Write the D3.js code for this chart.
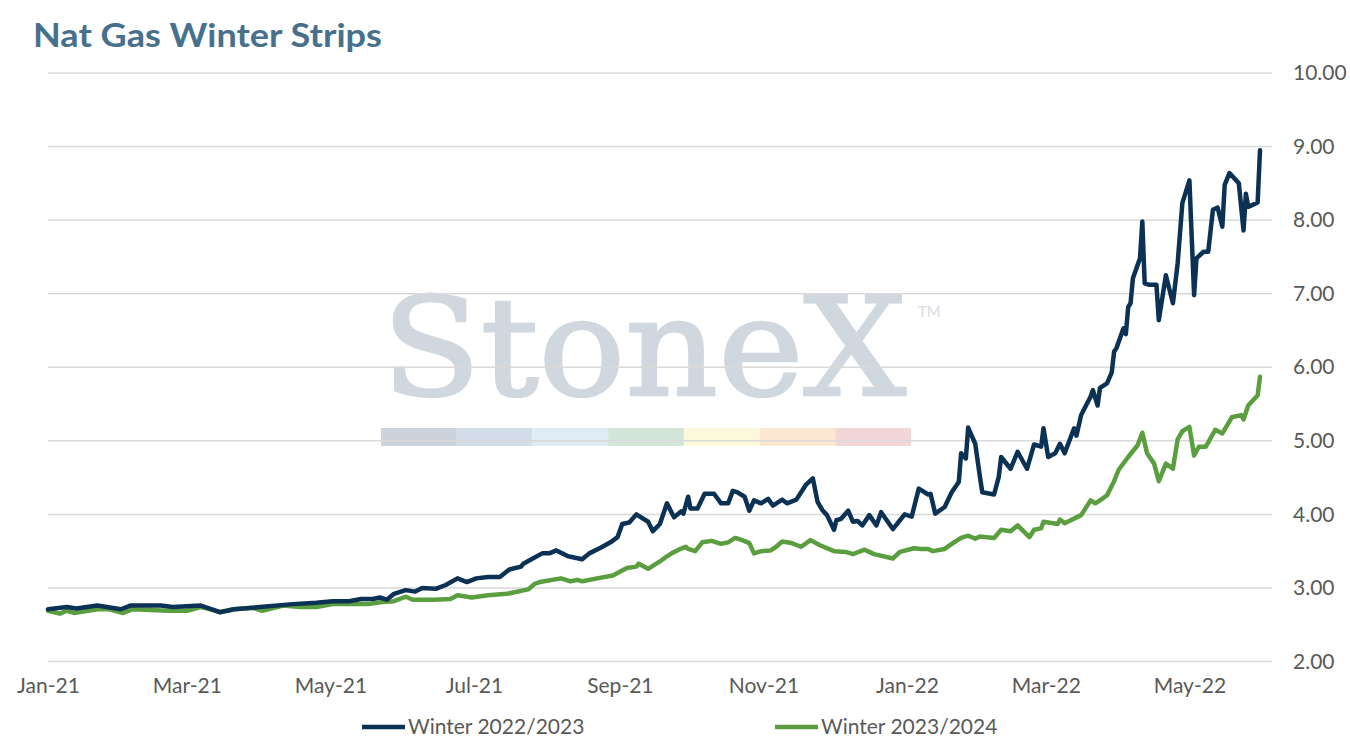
<!DOCTYPE html>
<html>
<head>
<meta charset="utf-8">
<script src="https://cdn.jsdelivr.net/npm/d3@7"></script>
<style>
  body { margin: 0; background: #fff; }
  text { font-family: Lato, "Noto Sans", sans-serif; }
</style>
</head>
<body>
<div id="chart"></div>
<script>
// Winter 2022/2023 strip (navy)
var w22Dates = ["2021-01-01","2021-01-09","2021-01-13","2021-01-22","2021-02-01","2021-02-05","2021-02-18","2021-02-23",
  "2021-03-07","2021-03-15","2021-03-21","2021-04-01","2021-04-15","2021-04-25","2021-05-02","2021-05-09","2021-05-14",
  "2021-05-19","2021-05-22","2021-05-25","2021-05-28","2021-06-02","2021-06-06","2021-06-09","2021-06-15","2021-06-19",
  "2021-06-24","2021-06-28","2021-07-02","2021-07-07","2021-07-12","2021-07-16","2021-07-21","2021-07-22","2021-07-26",
  "2021-07-30","2021-08-02","2021-08-05","2021-08-10","2021-08-16","2021-08-19","2021-08-24","2021-08-28","2021-08-31",
  "2021-09-02","2021-09-05","2021-09-08","2021-09-13","2021-09-15","2021-09-18","2021-09-21","2021-09-24","2021-09-27",
  "2021-09-28","2021-09-30","2021-10-01","2021-10-04","2021-10-07","2021-10-11","2021-10-14","2021-10-17","2021-10-19",
  "2021-10-21","2021-10-24","2021-10-26","2021-10-28","2021-10-31","2021-11-03","2021-11-05","2021-11-09","2021-11-11",
  "2021-11-15","2021-11-19","2021-11-22","2021-11-24","2021-11-26","2021-11-28","2021-12-01","2021-12-02","2021-12-04",
  "2021-12-07","2021-12-09","2021-12-11","2021-12-13","2021-12-16","2021-12-19","2021-12-21","2021-12-26","2021-12-29",
  "2021-12-31","2022-01-03","2022-01-06","2022-01-10","2022-01-11","2022-01-13","2022-01-17","2022-01-20","2022-01-23",
  "2022-01-24","2022-01-26","2022-01-27","2022-01-30","2022-02-01","2022-02-02","2022-02-07","2022-02-09","2022-02-10",
  "2022-02-14","2022-02-17","2022-02-21","2022-02-24","2022-02-27","2022-02-28","2022-03-02","2022-03-05","2022-03-07",
  "2022-03-09","2022-03-13","2022-03-14","2022-03-16","2022-03-20","2022-03-21","2022-03-23","2022-03-24","2022-03-27",
  "2022-03-29","2022-03-30","2022-03-31","2022-04-03","2022-04-04","2022-04-05","2022-04-06","2022-04-07","2022-04-10",
  "2022-04-11","2022-04-12","2022-04-14","2022-04-17","2022-04-18","2022-04-21","2022-04-24","2022-04-26","2022-04-28",
  "2022-05-01","2022-05-03","2022-05-04","2022-05-07","2022-05-09","2022-05-11","2022-05-13","2022-05-15","2022-05-16",
  "2022-05-18","2022-05-22","2022-05-24","2022-05-25","2022-05-26","2022-05-30","2022-05-31"];
var w22Values = [2.71,2.74,2.72,2.76,2.71,2.76,2.76,2.74,
  2.76,2.67,2.71,2.74,2.78,2.80,2.82,2.82,2.85,
  2.85,2.87,2.84,2.92,2.97,2.95,3.00,2.99,3.04,
  3.13,3.08,3.13,3.15,3.15,3.25,3.29,3.33,3.40,
  3.47,3.47,3.51,3.43,3.39,3.47,3.55,3.62,3.69,
  3.87,3.89,4.00,3.90,3.77,3.87,4.15,3.96,4.04,
  4.01,4.24,4.08,4.08,4.28,4.28,4.15,4.15,4.32,
  4.30,4.24,4.05,4.19,4.15,4.21,4.12,4.20,4.15,
  4.20,4.40,4.49,4.17,4.06,3.99,3.79,3.92,3.94,
  4.05,3.90,3.91,3.85,3.99,3.85,4.03,3.80,3.92,
  4.00,3.97,4.35,4.27,4.28,4.01,4.10,4.30,4.44,
  4.83,4.76,5.18,4.96,4.51,4.30,4.27,4.51,4.78,
  4.62,4.85,4.62,4.95,4.92,5.17,4.78,4.83,4.96,
  4.83,5.17,5.07,5.35,5.60,5.69,5.48,5.72,5.78,
  5.93,6.21,6.26,6.53,6.45,6.82,6.87,7.21,7.48,
  7.98,7.14,7.12,7.12,6.64,7.25,6.87,7.41,8.23,
  8.54,6.98,7.48,7.57,7.57,8.14,8.17,7.91,8.48,
  8.64,8.50,7.86,8.36,8.18,8.24,8.95];

// Winter 2023/2024 strip (green)
var w23Dates = ["2021-01-01","2021-01-06","2021-01-09","2021-01-12","2021-01-22","2021-01-27","2021-02-02","2021-02-06",
  "2021-02-21","2021-03-01","2021-03-07","2021-03-11","2021-03-15","2021-03-21","2021-03-29","2021-04-02","2021-04-11",
  "2021-04-18","2021-04-25","2021-05-02","2021-05-17","2021-05-23","2021-05-28","2021-06-02","2021-06-05","2021-06-14",
  "2021-06-21","2021-06-24","2021-06-30","2021-07-07","2021-07-15","2021-07-24","2021-07-27","2021-07-29","2021-08-07",
  "2021-08-11","2021-08-14","2021-08-16","2021-08-24","2021-08-29","2021-09-01","2021-09-04","2021-09-08","2021-09-09",
  "2021-09-13","2021-09-18","2021-09-21","2021-09-23","2021-09-26","2021-09-29","2021-09-30","2021-10-03","2021-10-06",
  "2021-10-10","2021-10-14","2021-10-17","2021-10-20","2021-10-23","2021-10-26","2021-10-28","2021-10-31","2021-11-04",
  "2021-11-06","2021-11-09","2021-11-13","2021-11-17","2021-11-21","2021-11-25","2021-12-01","2021-12-06","2021-12-09",
  "2021-12-14","2021-12-18","2021-12-26","2021-12-29","2022-01-04","2022-01-07","2022-01-10","2022-01-12","2022-01-17",
  "2022-01-21","2022-01-24","2022-01-27","2022-01-30","2022-02-01","2022-02-07","2022-02-10","2022-02-14","2022-02-17",
  "2022-02-22","2022-02-24","2022-02-27","2022-02-28","2022-03-06","2022-03-07","2022-03-09","2022-03-16","2022-03-20",
  "2022-03-22","2022-03-24","2022-03-27","2022-03-30","2022-04-01","2022-04-05","2022-04-09","2022-04-11","2022-04-13",
  "2022-04-16","2022-04-18","2022-04-21","2022-04-24","2022-04-26","2022-04-28","2022-05-01","2022-05-03","2022-05-05",
  "2022-05-08","2022-05-12","2022-05-15","2022-05-19","2022-05-23","2022-05-24","2022-05-26","2022-05-30","2022-05-31"];
var w23Values = [2.69,2.65,2.69,2.66,2.71,2.71,2.66,2.71,
  2.69,2.69,2.74,2.71,2.67,2.71,2.73,2.69,2.76,
  2.74,2.74,2.78,2.78,2.81,2.82,2.88,2.84,2.84,
  2.85,2.90,2.87,2.90,2.92,2.98,3.06,3.08,3.13,
  3.09,3.11,3.09,3.14,3.17,3.22,3.27,3.29,3.33,
  3.26,3.36,3.43,3.47,3.52,3.56,3.53,3.50,3.62,
  3.64,3.60,3.62,3.68,3.65,3.61,3.47,3.50,3.51,
  3.55,3.63,3.61,3.56,3.65,3.58,3.50,3.49,3.46,
  3.52,3.46,3.40,3.49,3.54,3.53,3.53,3.50,3.53,
  3.62,3.68,3.71,3.67,3.70,3.68,3.79,3.77,3.85,
  3.69,3.79,3.81,3.90,3.87,3.93,3.88,3.99,4.19,
  4.15,4.19,4.26,4.45,4.61,4.78,4.94,5.11,4.83,
  4.69,4.45,4.69,4.62,5.02,5.13,5.19,4.80,4.92,
  4.92,5.15,5.10,5.32,5.35,5.29,5.48,5.62,5.87];

var seriesNames = ["Winter 2022/2023", "Winter 2023/2024"];
var seriesColors = ["#0b3154", "#5b9e3f"];
var yTicks = [2, 3, 4, 5, 6, 7, 8, 9, 10];
var xTickDates = ["2021-01-01","2021-03-01","2021-05-01","2021-07-01","2021-09-01","2021-11-01",
  "2022-01-01","2022-03-01","2022-05-01"];
var watermarkColors = ["#ccd3dc","#d3dde9","#dfecf5","#d4e6da","#fbf8dc","#fbe7d2","#f3d6d8"];

var W = 1350, H = 750;
var parse = d3.timeParse("%Y-%m-%d");

var svg = d3.select("#chart").append("svg")
    .attr("width", W)
    .attr("height", H);

// Scales
var x = d3.scaleTime()
    .domain([parse("2021-01-01"), parse("2022-05-31")])
    .range([48, 1260]);
var y = d3.scaleLinear()
    .domain([2, 10])
    .range([661.5, 73]);

// Title
svg.append("text")
    .attr("x", 33)
    .attr("y", 47)
    .attr("textLength", 349)
    .attr("lengthAdjust", "spacingAndGlyphs")
    .attr("fill", "#47708c")
    .style("font-size", "32px")
    .style("font-weight", "700")
    .text("Nat Gas Winter Strips");

// Watermark (sits under the gridlines)
var wm = svg.append("g").attr("class", "watermark");
wm.append("text")
    .attr("x", 382)
    .attr("y", 395)
    .attr("textLength", 524)
    .attr("lengthAdjust", "spacingAndGlyphs")
    .attr("fill", "#d0d7df")
    .attr("stroke", "#d0d7df")
    .attr("stroke-width", 2.5)
    .style("font-family", "'DejaVu Serif', 'Liberation Serif', serif")
    .style("font-size", "136px")
    .text("StoneX");
wm.append("text")
    .attr("x", 918)
    .attr("y", 317)
    .attr("fill", "#d6dce3")
    .style("font-size", "15px")
    .text("TM");
var segW = 530 / watermarkColors.length;
wm.selectAll("rect")
    .data(watermarkColors)
    .enter().append("rect")
    .attr("x", function (d, i) { return 381 + i * segW; })
    .attr("y", 428)
    .attr("width", segW)
    .attr("height", 18)
    .attr("fill", function (d) { return d; });

// Gridlines
svg.append("g")
    .selectAll("line")
    .data(yTicks)
    .enter().append("line")
    .attr("x1", 48)
    .attr("x2", 1272)
    .attr("y1", function (d) { return y(d); })
    .attr("y2", function (d) { return y(d); })
    .attr("stroke", "#d9d9d9")
    .attr("stroke-width", 1.5);

// Y axis (right)
var yAxis = d3.axisRight(y)
    .tickValues(yTicks)
    .tickSize(0)
    .tickPadding(0)
    .tickFormat(d3.format(".2f"));
var gy = svg.append("g")
    .attr("transform", "translate(1293,0)")
    .call(yAxis);
gy.select(".domain").remove();
gy.selectAll("text")
    .attr("fill", "#595959")
    .style("font-size", "21px")
    .style("font-family", "Lato, sans-serif");

// X axis
var xAxis = d3.axisBottom(x)
    .tickValues(xTickDates.map(parse))
    .tickSize(0)
    .tickPadding(0)
    .tickFormat(d3.timeFormat("%b-%y"));
var gx = svg.append("g")
    .attr("transform", "translate(0,678)")
    .call(xAxis);
gx.select(".domain").remove();
gx.selectAll("text")
    .attr("fill", "#595959")
    .style("font-size", "21px")
    .style("font-family", "Lato, sans-serif");

// Lines
var line = d3.line()
    .x(function (d) { return x(d.date); })
    .y(function (d) { return y(d.value); });

var series = [
    w22Dates.map(function (d, i) { return { date: parse(d), value: w22Values[i] }; }),
    w23Dates.map(function (d, i) { return { date: parse(d), value: w23Values[i] }; })
];

// draw green first so the navy sits on top
[1, 0].forEach(function (k) {
    svg.append("path")
        .datum(series[k])
        .attr("fill", "none")
        .attr("stroke", seriesColors[k])
        .attr("stroke-width", 4.5)
        .attr("stroke-linejoin", "round")
        .attr("stroke-linecap", "round")
        .attr("d", line);
});

// Legend
var legendX = [362, 775];
var legend = svg.append("g");
seriesNames.forEach(function (name, i) {
    legend.append("line")
        .attr("x1", legendX[i])
        .attr("x2", legendX[i] + 43)
        .attr("y1", 727)
        .attr("y2", 727)
        .attr("stroke", seriesColors[i])
        .attr("stroke-width", 4.5);
    legend.append("text")
        .attr("x", legendX[i] + 46)
        .attr("y", 734)
        .attr("fill", "#595959")
        .style("font-size", "21px")
        .text(name);
});
</script>
</body>
</html>
